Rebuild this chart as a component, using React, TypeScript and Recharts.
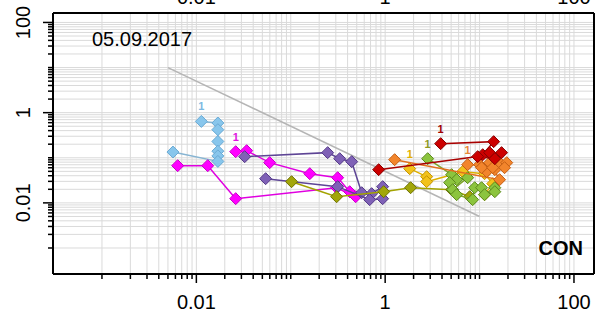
import React from 'react';
import { ScatterChart, Scatter, XAxis, YAxis, CartesianGrid, ReferenceLine, Customized } from 'recharts';

const FONT = '"Liberation Sans", Arial, Helvetica, sans-serif';

// ---- tick definitions ----
const decades = [0.001, 0.01, 0.1, 1, 10];
const multipliers = [1, 2, 3, 4, 5, 6, 7, 8, 9];
const allTicks = decades.flatMap((d) => multipliers.map((m) => +(d * m).toPrecision(2))).concat([100]);
const majorTicks = [0.01, 1, 100];
const tickLabels = ['0.01', '1', '100'];

// ---- axis domains ----
const xDomain = [0.000303, 163];
const yDomain = [0.000265, 162];

// ---- reference diagonal ----
const refLineX = [0.005, 10];
const refLineY = [10, 0.005];

// ---- series data ----
const blueX = [0.0113, 0.0169, 0.0169, 0.0169, 0.0169, 0.0169, 0.0169, 0.00565];
const blueY = [0.64, 0.59, 0.42, 0.23, 0.14, 0.11, 0.083, 0.134];

const magentaX = [0.0261, 0.0341, 0.0598, 0.159, 0.314, 0.421, 0.487, 0.306, 0.0261, 0.0132, 0.00634];
const magentaY = [0.1365, 0.1437, 0.0779, 0.0444, 0.0362, 0.0177, 0.0137, 0.0217, 0.0124, 0.0668, 0.0668];

const purpleAX = [0.0325, 0.246, 0.33, 0.442, 0.564, 0.719, 0.941];
const purpleAY = [0.1058, 0.13, 0.0955, 0.082, 0.0168, 0.016, 0.0229];

const purpleBX = [0.0542, 0.314, 0.685, 0.941];
const purpleBY = [0.0344, 0.0229, 0.0118, 0.0124];

const oliveX = [0.102, 0.306, 0.964, 1.86, 5.06, 7.85];
const oliveY = [0.0295, 0.0137, 0.0177, 0.0217, 0.0196, 0.0137];

const yellowX = [1.82, 2.75, 2.75, 6.62, 11.3, 13.8, 11.3];
const yellowY = [0.0573, 0.0381, 0.0295, 0.0492, 0.0444, 0.0267, 0.0152];

const ygreenX = [2.82, 5.06, 5.72, 4.82, 7.48, 5.19, 5.72, 8.45, 8.87, 10.5, 11.3, 14.5, 14.5];
const ygreenY = [0.0955, 0.0422, 0.0327, 0.0281, 0.0362, 0.0196, 0.0152, 0.0118, 0.0217, 0.0217, 0.0152, 0.0217, 0.0177];

const orangeX = [7.48, 10.0, 12.8, 15.9, 19.4, 18.4, 14.5, 11.9, 10.5, 13.8, 16.3, 1.26];
const orangeY = [0.0703, 0.0703, 0.0779, 0.082, 0.0779, 0.0603, 0.0545, 0.0492, 0.0603, 0.0603, 0.0327, 0.0907];

const redX = [3.87, 14.1, 10.8, 12.8, 17.1, 14.5, 9.55, 0.853];
const redY = [0.2055, 0.2275, 0.117, 0.13, 0.13, 0.0955, 0.106, 0.0545];

const toPts = (xs: number[], ys: number[], withLabel: boolean) =>
  xs.map((x, i) => ({ x, y: ys[i], lab: withLabel && i === 0 ? '1' : '' }));

const seriesList = [
  { name: 'blue', data: toPts(blueX, blueY, true), fill: '#88C6EC', stroke: '#6AAAD4', line: '#86B4D2', label: '#7DB9E2' },
  { name: 'magenta', data: toPts(magentaX, magentaY, true), fill: '#FF00FF', stroke: '#C800C8', line: '#E000E0', label: '#E014E0' },
  { name: 'purpleA', data: toPts(purpleAX, purpleAY, false), fill: '#7F61B6', stroke: '#553A88', line: '#5E4595', label: '#5E4595' },
  { name: 'purpleB', data: toPts(purpleBX, purpleBY, false), fill: '#7F61B6', stroke: '#553A88', line: '#5E4595', label: '#5E4595' },
  { name: 'olive', data: toPts(oliveX, oliveY, false), fill: '#A2A60A', stroke: '#6F7200', line: '#A3A300', label: '#8E9A1E' },
  { name: 'yellow', data: toPts(yellowX, yellowY, true), fill: '#F2C21C', stroke: '#C49400', line: '#DDB000', label: '#E2B000' },
  { name: 'ygreen', data: toPts(ygreenX, ygreenY, true), fill: '#8CC43E', stroke: '#5C8A1C', line: '#7DA52A', label: '#8E9A1E' },
  { name: 'orange', data: toPts(orangeX, orangeY, true), fill: '#F2852C', stroke: '#C45E14', line: '#E0701E', label: '#E88838' },
  { name: 'red', data: toPts(redX, redY, true), fill: '#CC0000', stroke: '#880000', line: '#A80000', label: '#A00000' },
];

const makeShape = (fill: string, stroke: string, labelColor: string) => (props: any) => {
  const { cx, cy } = props;
  if (cx == null || cy == null || isNaN(cx) || isNaN(cy)) return <g />;
  const r = 6;
  const lab = (props.payload && props.payload.lab) || props.lab;
  return (
    <g>
      <polygon
        points={`${cx},${cy - r} ${cx + r},${cy} ${cx},${cy + r} ${cx - r},${cy}`}
        fill={fill}
        stroke={stroke}
        strokeWidth={1}
      />
      {lab ? (
        <text x={cx} y={cy - 11} textAnchor="middle" fontSize={11} fontWeight="bold" fill={labelColor} fontFamily={FONT}>
          {lab}
        </text>
      ) : null}
    </g>
  );
};

function BottomTick(props: any) {
  const { x, y, payload } = props;
  const idx = majorTicks.indexOf(payload.value);
  const major = idx >= 0;
  return (
    <g>
      <line x1={x} x2={x} y1={y} y2={y + (major ? 9 : 5)} stroke="#000" strokeWidth={1.5} />
      {major ? (
        <text x={x} y={y + 35} textAnchor="middle" fontSize={20} fontFamily={FONT} fill="#000">
          {tickLabels[idx]}
        </text>
      ) : null}
    </g>
  );
}

function LeftTick(props: any) {
  const { x, y, payload } = props;
  const idx = majorTicks.indexOf(payload.value);
  const major = idx >= 0;
  const tx = x - 23;
  return (
    <g>
      <line x1={x - (major ? 10 : 5)} x2={x} y1={y} y2={y} stroke="#000" strokeWidth={1.5} />
      {major ? (
        <text
          x={tx}
          y={y}
          transform={`rotate(-90, ${tx}, ${y})`}
          textAnchor="middle"
          fontSize={20}
          fontFamily={FONT}
          fill="#000"
        >
          {tickLabels[idx]}
        </text>
      ) : null}
    </g>
  );
}

function TopTick(props: any) {
  const { x, y, payload } = props;
  const idx = majorTicks.indexOf(payload.value);
  if (idx < 0) return <g />;
  return (
    <text x={x} y={y - 9} textAnchor="middle" fontSize={20} fontFamily={FONT} fill="#000">
      {tickLabels[idx]}
    </text>
  );
}

const Annotations = () => (
  <g>
    <text x={92} y={46} fontSize={20} fontFamily={FONT} fill="#000">
      05.09.2017
    </text>
    <text x={583} y={255} textAnchor="end" fontSize={20} fontWeight="bold" fontFamily={FONT} fill="#000">
      CON
    </text>
  </g>
);

export default function App() {
  return (
    <div style={{ position: 'absolute', left: 0, top: 0, width: 597, height: 313, background: '#fff' }}>
      <ScatterChart width={597} height={313} margin={{ top: 0, right: 0, bottom: 0, left: 0 }}>
        <CartesianGrid xAxisId="b" yAxisId="l" stroke="#dadada" strokeWidth={1} />
        <XAxis
          xAxisId="b"
          orientation="bottom"
          type="number"
          dataKey="x"
          scale="log"
          domain={xDomain}
          allowDataOverflow
          ticks={allTicks}
          interval={0}
          height={39}
          tickLine={false}
          tickSize={0}
          tickMargin={0}
          tick={BottomTick}
          axisLine={{ stroke: '#000', strokeWidth: 2 }}
        />
        <XAxis
          xAxisId="t"
          orientation="top"
          type="number"
          dataKey="x"
          scale="log"
          domain={xDomain}
          allowDataOverflow
          ticks={majorTicks}
          interval={0}
          height={13}
          tickLine={false}
          tickSize={0}
          tickMargin={0}
          tick={TopTick}
          axisLine={{ stroke: '#000', strokeWidth: 2 }}
        />
        <YAxis
          yAxisId="l"
          orientation="left"
          type="number"
          dataKey="y"
          scale="log"
          domain={yDomain}
          allowDataOverflow
          ticks={allTicks}
          interval={0}
          width={53}
          tickLine={false}
          tickSize={0}
          tickMargin={0}
          tick={LeftTick}
          axisLine={{ stroke: '#000', strokeWidth: 2 }}
        />
        <YAxis
          yAxisId="r"
          orientation="right"
          type="number"
          dataKey="y"
          scale="log"
          domain={yDomain}
          allowDataOverflow
          ticks={majorTicks}
          width={3}
          tick={false}
          tickLine={false}
          axisLine={{ stroke: '#000', strokeWidth: 2 }}
        />
        <ReferenceLine
          xAxisId="b"
          yAxisId="l"
          segment={[
            { x: refLineX[0], y: refLineY[0] },
            { x: refLineX[1], y: refLineY[1] },
          ]}
          stroke="#b5b5b5"
          strokeWidth={1.5}
        />
        {seriesList.map((s) => (
          <Scatter
            key={s.name}
            name={s.name}
            xAxisId="b"
            yAxisId="l"
            data={s.data}
            line={{ stroke: s.line, strokeWidth: 1.5 }}
            lineType="joint"
            shape={makeShape(s.fill, s.stroke, s.label)}
            isAnimationActive={false}
          />
        ))}
        <Customized component={Annotations} />
      </ScatterChart>
    </div>
  );
}
